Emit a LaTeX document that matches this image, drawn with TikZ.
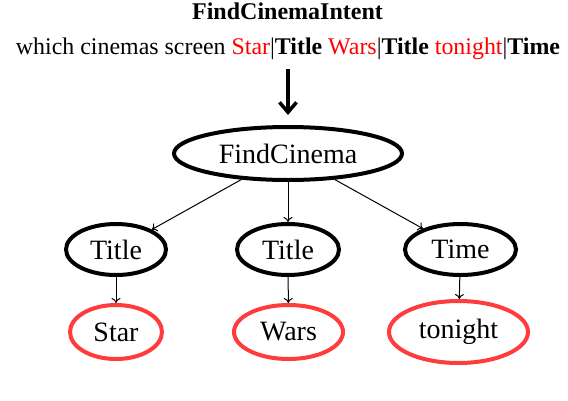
\documentclass[tikz,border=0pt]{standalone}
\usepackage{fontspec}
\setmainfont{Liberation Serif}
\usetikzlibrary{shapes.geometric,arrows.meta}
\definecolor{nodered}{HTML}{FF3B3B}
\begin{document}
\begin{tikzpicture}[x=1pt,y=-1pt,
  blk/.style={ellipse,draw=black,line width=4pt,inner sep=0pt,font=\fontsize{28}{32}\selectfont},
  rd/.style={ellipse,draw=nodered,line width=4pt,inner sep=0pt,font=\fontsize{28}{32}\selectfont},
  edge/.style={-{To[length=5pt,width=9pt]},line width=1pt},
  bigarrow/.style={-{Straight Barb[length=10pt,width=17pt,line width=3.5pt]},line width=4pt}]
\useasboundingbox (0,0) rectangle (568,400);
\node[font=\bfseries\fontsize{24}{27}\selectfont, anchor=base] (title) at (287.5,19) {FindCinemaIntent};
\node[font=\fontsize{23.9}{27}\selectfont, anchor=base] (sent) at (288,54.5)
  {which cinemas screen \textcolor{red}{Star}|\textbf{Title} \textcolor{red}{Wars}|\textbf{Title} \textcolor{red}{tonight}|\textbf{Time}};
\coordinate (a0) at (288,69);
\coordinate (a1) at (288,115);
\draw[bigarrow] (a0) -- (a1);
\node[blk,minimum width=228pt,minimum height=53pt] (fc) at (288,153.5) {FindCinema};
\node[blk,minimum width=100pt,minimum height=51pt] (t1) at (116,249.5) {Title};
\node[blk,minimum width=102pt,minimum height=51pt] (t2) at (288,249.5) {Title};
\node[blk,minimum width=111pt,minimum height=51pt] (tm) at (460.5,249.5) {Time};
\node[rd,minimum width=92pt,minimum height=54pt] (s) at (116,332) {Star};
\node[rd,minimum width=109pt,minimum height=54pt] (w) at (288.5,332) {Wars};
\node[rd,minimum width=139pt,minimum height=62pt] (tn) at (458.5,332) {tonight};
\draw[edge] (fc) -- (t1);
\draw[edge] (fc) -- (t2);
\draw[edge] (fc) -- (tm);
\draw[edge] (t1) -- (s);
\draw[edge] (t2) -- (w);
\draw[edge] (tm) -- (tn);
\end{tikzpicture}
\end{document}
